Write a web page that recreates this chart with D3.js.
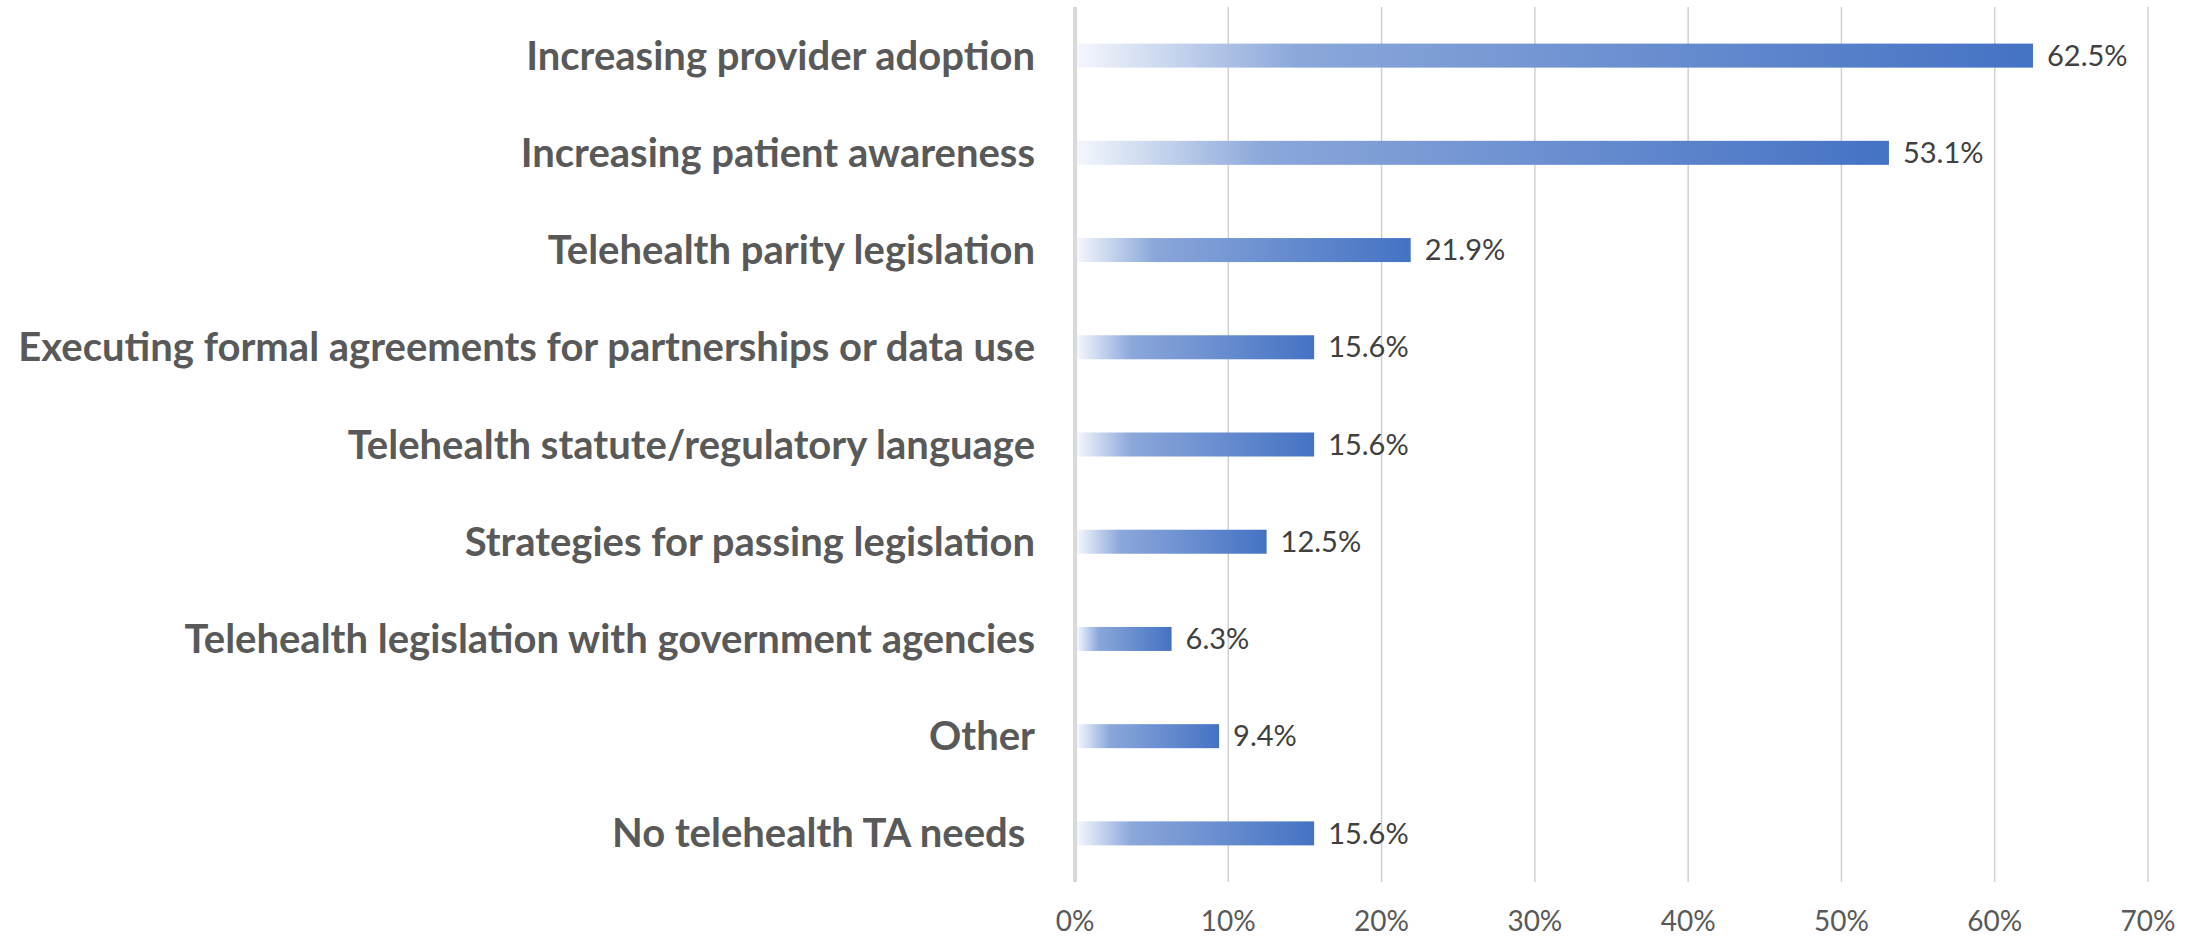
<!DOCTYPE html>
<html>
<head>
<meta charset="utf-8">
<script src="https://cdn.jsdelivr.net/npm/d3@7"></script>
<style>
    html, body { margin: 0; padding: 0; background: #fff; }
    #chart-container { width: 2198px; height: 936px; }
</style>
</head>
<body>
<div id="chart-container"></div>
<script>
// Chart data
const categories = [
    'Increasing provider adoption',
    'Increasing patient awareness',
    'Telehealth parity legislation',
    'Executing formal agreements for partnerships or data use',
    'Telehealth statute/regulatory language',
    'Strategies for passing legislation',
    'Telehealth legislation with government agencies',
    'Other',
    'No telehealth TA needs '
];
const values = [62.5, 53.1, 21.9, 15.6, 15.6, 12.5, 6.3, 9.4, 15.6];
const xTicks = [0, 10, 20, 30, 40, 50, 60, 70];

class TABarChart {
    constructor(containerId, options = {}) {
        this.containerId = containerId;
        this.options = {
            width: options.width || 2198,
            height: options.height || 936,
            margin: { top: 7, right: 50, bottom: 54, left: 1075 },
            barFraction: 0.247,
            ...options
        };
    }

    init() {
        const { width, height, margin } = this.options;

        this.svg = d3.select(`#${this.containerId}`)
            .append('svg')
            .attr('width', width)
            .attr('height', height)
            .style('font-family', 'Lato, "Open Sans", sans-serif');

        // Gradient used for every bar (light on the left, solid blue on the right)
        const grad = this.svg.append('defs')
            .append('linearGradient')
            .attr('id', 'barGradient')
            .attr('x1', 0).attr('x2', 1).attr('y1', 0).attr('y2', 0);
        grad.append('stop').attr('offset', '0%').attr('stop-color', '#f4f7fc');
        grad.append('stop').attr('offset', '23%').attr('stop-color', '#8ba7da');
        grad.append('stop').attr('offset', '100%').attr('stop-color', '#4472c4');

        this.x = d3.scaleLinear()
            .domain([0, 70])
            .range([margin.left, width - margin.right]);

        this.y = d3.scaleBand()
            .domain(categories)
            .range([margin.top, height - margin.bottom]);

        this.render();
    }

    render() {
        const { height, margin, barFraction } = this.options;
        const x = this.x, y = this.y;
        const plotBottom = height - margin.bottom;
        const barH = y.bandwidth() * barFraction;

        // Gridlines
        this.svg.append('g')
            .attr('class', 'grid')
            .selectAll('line')
            .data(xTicks)
            .enter().append('line')
            .attr('x1', d => x(d))
            .attr('x2', d => x(d))
            .attr('y1', margin.top)
            .attr('y2', plotBottom)
            .attr('stroke', d => d === 0 ? '#d9d9d9' : '#d0d0d0')
            .attr('stroke-width', d => d === 0 ? 4 : 1.5);

        // Tick labels
        this.svg.append('g')
            .attr('class', 'x-labels')
            .selectAll('text')
            .data(xTicks)
            .enter().append('text')
            .attr('x', d => x(d))
            .attr('y', 921)
            .attr('dy', '0.35em')
            .attr('text-anchor', 'middle')
            .attr('font-size', '28px')
            .attr('fill', '#595959')
            .text(d => d + '%');

        // Bars
        this.svg.append('g')
            .attr('class', 'bars')
            .selectAll('rect')
            .data(values)
            .enter().append('rect')
            .attr('x', x(0) + 2)
            .attr('y', (d, i) => y(categories[i]) + y.bandwidth() / 2 - barH / 2)
            .attr('width', d => x(d) - x(0) - 2)
            .attr('height', barH)
            .attr('fill', 'url(#barGradient)');

        // Data labels
        this.svg.append('g')
            .attr('class', 'data-labels')
            .selectAll('text')
            .data(values)
            .enter().append('text')
            .attr('x', d => x(d) + 14)
            .attr('y', (d, i) => y(categories[i]) + y.bandwidth() / 2)
            .attr('dy', '0.35em')
            .attr('font-size', '29px')
            .attr('fill', '#404040')
            .text(d => d.toFixed(1) + '%');

        // Category labels
        this.svg.append('g')
            .attr('class', 'y-labels')
            .selectAll('text')
            .data(categories)
            .enter().append('text')
            .attr('x', 1035)
            .attr('y', d => y(d) + y.bandwidth() / 2)
            .attr('dy', '0.35em')
            .attr('text-anchor', 'end')
            .attr('font-size', '40px')
            .attr('font-weight', 'bold')
            .attr('fill', '#595959')
            .style('white-space', 'pre')
            .text(d => d);
    }
}

const chart = new TABarChart('chart-container');
chart.init();
</script>
</body>
</html>
